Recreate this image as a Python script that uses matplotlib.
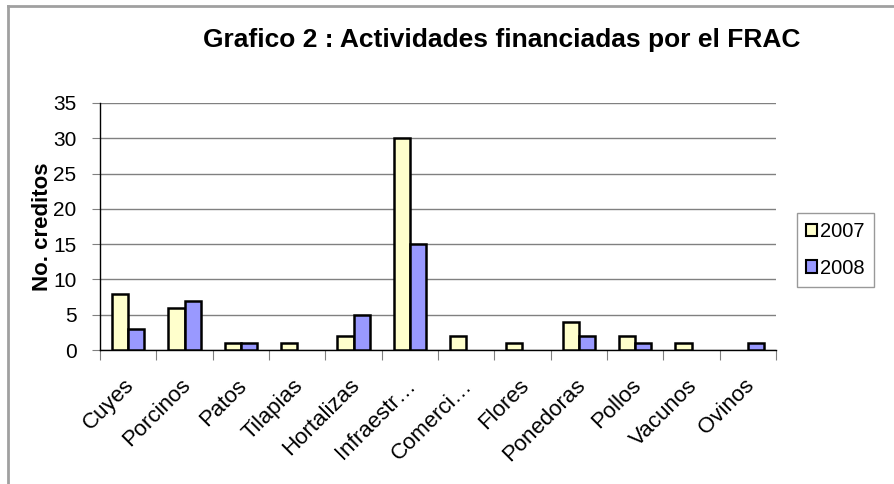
import matplotlib.pyplot as plt
import numpy as np
from matplotlib.lines import Line2D

plt.rcParams['font.family'] = ['Liberation Sans', 'DejaVu Sans']

categorias = ["Cuyes", "Porcinos", "Patos", "Tilapias", "Hortalizas", "Infraestr…",
              "Comerci…", "Flores", "Ponedoras", "Pollos", "Vacunos", "Ovinos"]
creditos_2007 = [8, 6, 1, 1, 2, 30, 2, 1, 4, 2, 1, 0]
creditos_2008 = [3, 7, 1, 0, 5, 15, 0, 0, 2, 1, 0, 1]
series = ["2007", "2008"]
colores = ["#FFFFCC", "#9999FF"]

fig = plt.figure(figsize=(8.94, 4.84), dpi=100)
ax = fig.add_axes([100 / 894, 1 - 350 / 484, 676 / 894, 247 / 484])

x = np.arange(len(categorias))
ancho = 1 / 3.5
for i, (vals, nombre, c) in enumerate(zip([creditos_2007, creditos_2008], series, colores)):
    # Excel leaves zero-valued bars out entirely
    xs = [xi for xi, v in zip(x, vals) if v > 0]
    vs = [v for v in vals if v > 0]
    ax.bar(np.array(xs) + (i - 0.5) * ancho, vs, width=ancho, color=c,
           edgecolor="black", linewidth=1.8, label=nombre, zorder=3)

ax.set_xlim(-0.5, len(categorias) - 0.5)
ax.set_ylim(0, 35)
ax.set_yticks(range(0, 36, 5))
ax.yaxis.grid(True, color="#808080", linewidth=1)
ax.set_axisbelow(True)

# category ticks sit on the boundaries between groups
ax.set_xticks(np.arange(-0.5, len(categorias)), minor=False)
ax.set_xticklabels([])
ax.set_xticks(x - 0.08, minor=True)
ax.set_xticklabels(categorias, minor=True, rotation=45, ha="right", va="top",
                   rotation_mode="anchor", fontsize=16)
ax.tick_params(axis="x", which="major", length=7, color="#808080", direction="out")
ax.tick_params(axis="x", which="minor", length=0, pad=18)
ax.tick_params(axis="y", length=6, color="#808080", labelsize=15, pad=11)

for s in ["top", "right"]:
    ax.spines[s].set_visible(False)
for s in ["left", "bottom"]:
    ax.spines[s].set_color("black")
    ax.spines[s].set_linewidth(1)

ax.set_ylabel("No. creditos", fontsize=16, fontweight="bold", labelpad=0)

fig.text(502 / 894, 1 - 47 / 484, "Grafico 2 : Actividades financiadas por el FRAC",
         ha="center", va="baseline", fontsize=19, fontweight="bold")

leg = ax.legend(loc="center left", bbox_to_anchor=(797 / 894, 1 - 250 / 484),
                bbox_transform=fig.transFigure, fontsize=14.5, frameon=True,
                fancybox=False, edgecolor="#808080", handlelength=0.55,
                handleheight=0.55, handletextpad=0.15, borderpad=0.45,
                labelspacing=0.85, borderaxespad=0)
leg.get_frame().set_linewidth(1)
for h in leg.legend_handles:
    h.set_linewidth(1.5)

# outer chart border (top and left visible)
fig.add_artist(Line2D([7.5 / 894, 7.5 / 894], [0, 1 - 5.5 / 484],
                      transform=fig.transFigure, color="#A0A0A0", linewidth=2))
fig.add_artist(Line2D([7.5 / 894, 1], [1 - 5.5 / 484, 1 - 5.5 / 484],
                      transform=fig.transFigure, color="#A0A0A0", linewidth=2))

fig.savefig("out.png", dpi=100)
